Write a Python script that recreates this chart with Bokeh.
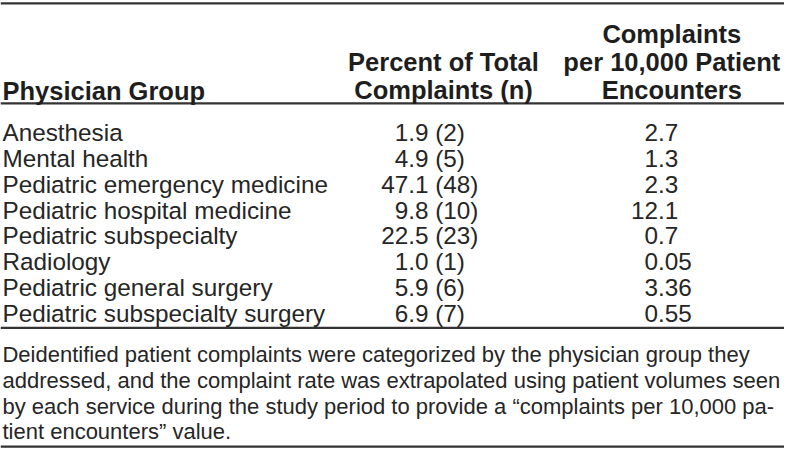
from bokeh.plotting import figure
from bokeh.models import Range1d
from bokeh.core.properties import value
from bokeh.embed import file_html
from bokeh.resources import INLINE

# ---- data ----
groups = [
    "Anesthesia",
    "Mental health",
    "Pediatric emergency medicine",
    "Pediatric hospital medicine",
    "Pediatric subspecialty",
    "Radiology",
    "Pediatric general surgery",
    "Pediatric subspecialty surgery",
]
pct = [1.9, 4.9, 47.1, 9.8, 22.5, 1.0, 5.9, 6.9]
counts = [2, 5, 48, 10, 23, 1, 6, 7]
rates = ["2.7", "1.3", "2.3", "12.1", "0.7", "0.05", "3.36", "0.55"]

header_col1 = ["Physician Group"]
header_col2 = ["Percent of Total", "Complaints (n)"]
header_col3 = ["Complaints", "per 10,000 Patient", "Encounters"]

footnote = [
    "Deidentified patient complaints were categorized by the physician group they",
    "addressed, and the complaint rate was extrapolated using patient volumes seen",
    "by each service during the study period to provide a \u201ccomplaints per 10,000 pa-",
    "tient encounters\u201d value.",
]

# ---- layout (reference pixel space 800 x 467) ----
W, H = 784, 451
FONT = "Liberation Sans"
TXT = "#262626"
LINE = "#333333"
BODY_PX = "24.3px"
HEAD_PX = "25.5px"
FOOT_PX = "22px"

p = figure(width=W, height=H, x_range=Range1d(0, 800), y_range=Range1d(467, 0),
           output_backend="svg", toolbar_location=None, min_border=0,
           x_axis_location=None, y_axis_location=None)
p.grid.visible = False
p.outline_line_color = None
p.background_fill_color = "white"
p.border_fill_color = "white"

# rules
rule_y = [3, 106.5, 339, 462]
p.segment(x0=[0] * 4, x1=[800] * 4, y0=rule_y, y1=rule_y, line_color=LINE, line_width=2.4)

# header
def head(xs, ys, texts, align):
    p.text(x=xs, y=ys, text=texts, text_font=value(FONT), text_font_size=HEAD_PX,
           text_font_style="bold", text_color="#1e1e1e", text_align=align,
           text_baseline="alphabetic")

head([2], [94], header_col1, "left")
head([452] * 2, [64, 93], header_col2, "center")
head([685] * 3, [35, 64, 93], header_col3, "center")

# rows
row_y = [137 + 26.7 * i for i in range(len(groups))]
body = dict(text_font=value(FONT), text_font_size=BODY_PX, text_color=TXT,
            text_baseline="alphabetic")
p.text(x=[2] * len(groups), y=row_y, text=groups, text_align="left", **body)

dec2, dec3 = 416, 671
int2 = [str(int(v)) for v in pct]
frac2 = ["." + ("%.1f" % v).split(".")[1] + " (%d)" % c for v, c in zip(pct, counts)]
p.text(x=[dec2] * len(pct), y=row_y, text=int2, text_align="right", **body)
p.text(x=[dec2] * len(pct), y=row_y, text=frac2, text_align="left", **body)

int3 = [r.split(".")[0] for r in rates]
frac3 = ["." + r.split(".")[1] for r in rates]
p.text(x=[dec3] * len(rates), y=row_y, text=int3, text_align="right", **body)
p.text(x=[dec3] * len(rates), y=row_y, text=frac3, text_align="left", **body)

# footnote
foot_y = [367 + 26.6 * i for i in range(len(footnote))]
p.text(x=[2] * len(footnote), y=foot_y, text=footnote, text_font=value(FONT),
       text_font_size=FOOT_PX, text_color=TXT, text_align="left",
       text_baseline="alphabetic")

open("out.html", "w").write(file_html(p, INLINE))
